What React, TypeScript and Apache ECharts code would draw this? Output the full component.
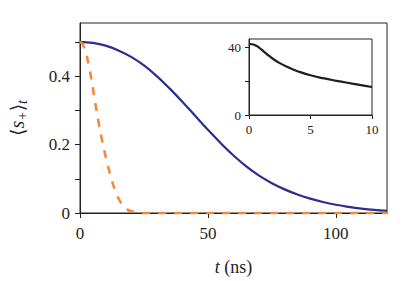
import React, { useEffect, useRef } from "react";
import * as echarts from "echarts";

// main plot: time (ns) and <s+>_t
const blueT = [0, 5, 10, 15, 20, 25, 30, 35, 40, 45, 50, 55, 60, 65, 70, 75, 80, 85, 90, 95, 100, 105, 110, 115, 120];
const blueV = [0.5, 0.497, 0.489, 0.475, 0.456, 0.431, 0.4, 0.364, 0.325, 0.284, 0.243, 0.204, 0.168, 0.136, 0.109, 0.087, 0.069, 0.054, 0.042, 0.032, 0.024, 0.018, 0.013, 0.009, 0.006];

const orangeT = [0, 1, 2, 3, 4, 5, 6, 7, 8, 9, 10, 11, 12, 13, 14, 15, 16, 17, 18, 19, 20, 22, 25, 30, 40, 50, 60, 70, 80, 90, 100, 110, 120];
const orangeV = [0.5, 0.494, 0.476, 0.447, 0.41, 0.366, 0.32, 0.276, 0.236, 0.199, 0.166, 0.135, 0.107, 0.082, 0.06, 0.043, 0.03, 0.02, 0.013, 0.008, 0.005, 0.002, 0, 0, 0, 0, 0, 0, 0, 0, 0, 0, 0];

// inset
const insetT = [0, 0.25, 0.5, 0.75, 1, 1.5, 2, 2.5, 3, 3.5, 4, 5, 6, 7, 8, 9, 10];
const insetV = [42.0, 41.9, 41.3, 40.3, 38.8, 35.8, 33.0, 30.7, 28.8, 27.2, 25.8, 23.5, 21.8, 20.4, 19.1, 17.8, 16.6];

const mainXTicks = [0, 50, 100];
const mainYTicks = ["0", "0.2", "0.4"];

const FONT = "Liberation Serif";
const INK = "#222";

export default function App() {
  const ref = useRef<HTMLDivElement>(null);
  useEffect(() => {
    if (!ref.current) return;
    const chart = echarts.init(ref.current, undefined, { renderer: "svg" });
    const pair = (xs: number[], ys: number[]) => xs.map((x, i) => [x, ys[i]]);
    const yFmt = (v: number) => {
      const k = Math.round(v * 10);
      if (k % 2 !== 0) return "";
      const s = k === 0 ? "0" : (k / 10).toFixed(1);
      return mainYTicks.includes(s) ? s : "";
    };
    const xFmt = (v: number) => (mainXTicks.includes(Math.round(v)) ? String(Math.round(v)) : "");
    chart.setOption({
      animation: false,
      backgroundColor: "#fff",
      textStyle: { fontFamily: FONT },
      grid: [
        { left: 80, top: 23, width: 307, height: 190, show: true, borderColor: INK, borderWidth: 1, backgroundColor: "transparent", containLabel: false, outerBoundsMode: "none" },
        { left: 249, top: 39, width: 123, height: 76, show: true, borderColor: INK, borderWidth: 1, backgroundColor: "#fff", z: 5, containLabel: false, outerBoundsMode: "none" },
      ],
      xAxis: [
        {
          gridIndex: 0, type: "value", min: 0, max: 120, interval: 50,
          name: "{i|t} (ns)", nameLocation: "middle", nameGap: 45,
          nameTextStyle: { fontFamily: FONT, fontSize: 18, color: INK, rich: { i: { fontStyle: "italic", fontSize: 18, fontFamily: FONT, color: INK } } },
          axisLine: { lineStyle: { color: INK, width: 1 } },
          axisTick: { length: 5, lineStyle: { color: INK } },
          axisLabel: { fontFamily: FONT, fontSize: 17, color: INK, margin: 12, formatter: xFmt, showMaxLabel: false },
          splitLine: { show: false },
        },
        {
          gridIndex: 1, type: "value", min: 0, max: 10, interval: 5,
          axisLine: { lineStyle: { color: INK, width: 1 } },
          axisTick: { length: 4, lineStyle: { color: INK } },
          axisLabel: { fontFamily: FONT, fontSize: 13, color: INK, margin: 8 },
          splitLine: { show: false },
          z: 6,
        },
      ],
      yAxis: [
        {
          gridIndex: 0, type: "value", min: 0, max: 0.555, interval: 0.1,
          name: "{a|⟨}{s|s}{sub|+}{a|⟩}{sub|t}", nameLocation: "middle", nameGap: 51, nameRotate: 90,
          nameTextStyle: {
            color: INK,
            fontFamily: FONT,
            rich: {
              a: { fontFamily: "DejaVu Serif", fontSize: 19, lineHeight: 24, color: INK, verticalAlign: "middle" },
              s: { fontFamily: FONT, fontStyle: "italic", fontSize: 20, lineHeight: 24, color: INK, verticalAlign: "middle" },
              sub: { fontFamily: FONT, fontStyle: "italic", fontSize: 14, lineHeight: 8, color: INK, verticalAlign: "bottom" },
            },
          },
          axisLine: { lineStyle: { color: INK, width: 1 } },
          axisTick: { length: 5, lineStyle: { color: INK } },
          axisLabel: { fontFamily: FONT, fontSize: 17, color: INK, margin: 10, formatter: yFmt, showMaxLabel: false },
          splitLine: { show: false },
        },
        {
          gridIndex: 1, type: "value", min: 0, max: 45, interval: 20,
          axisLine: { lineStyle: { color: INK, width: 1 } },
          axisTick: { length: 4, lineStyle: { color: INK } },
          axisLabel: { fontFamily: FONT, fontSize: 13, color: INK, margin: 8, showMaxLabel: false, formatter: (v: number) => (v === 20 ? "" : String(v)) },
          splitLine: { show: false },
          z: 6,
        },
      ],
      series: [
        {
          type: "line", xAxisIndex: 0, yAxisIndex: 0, data: pair(blueT, blueV), smooth: 0.4,
          showSymbol: false, clip: false, lineStyle: { color: "#2b2e8f", width: 2.2 }, z: 3,
        },
        {
          type: "line", xAxisIndex: 0, yAxisIndex: 0, data: pair(orangeT, orangeV), smooth: 0.3,
          showSymbol: false, clip: false, lineStyle: { color: "#f5883a", width: 2.6, type: [8, 8], cap: "butt" }, z: 4,
        },
        {
          type: "line", xAxisIndex: 1, yAxisIndex: 1, data: pair(insetT, insetV), smooth: 0.4,
          showSymbol: false, clip: true, lineStyle: { color: "#1e1e1e", width: 2.2 }, z: 7,
        },
      ],
    });
    return () => chart.dispose();
  }, []);
  return <div ref={ref} style={{ position: "fixed", left: 0, top: 0, width: 411, height: 281 }} />;
}
